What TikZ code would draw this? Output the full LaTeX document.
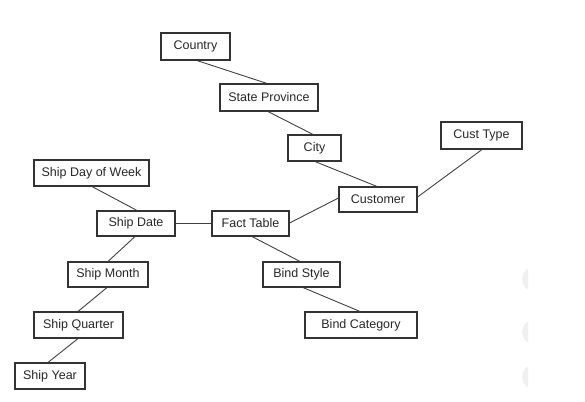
\documentclass[tikz,border=0pt]{standalone}
\usepackage{fontspec}
\setmainfont{Liberation Sans}
\begin{document}
\begin{tikzpicture}[x=1pt,y=-1pt,
  box/.style={draw=black!80, line width=1.1pt, inner sep=0pt, font=\fontsize{12.5}{14}\selectfont, text=black!85},
  link/.style={draw=black!75, line width=0.9pt}]
\useasboundingbox (0,0) rectangle (585,401);
% faint artifacts at right edge
\begin{scope}
\clip (515,0) rectangle (528,401);
\foreach \cy in {279,332,377}
  \fill[black!6] (535,\cy) circle (13);
\end{scope}
\newcommand{\bx}[6]{\node[box, minimum width=#4-#2, minimum height=#5-#3] (#1) at ({(#2+#4)/2},{(#3+#5)/2}) {#6};}
\bx{country}{161}{33}{230}{60}{Country}
\bx{state}{220}{84}{318}{111}{State Province}
\bx{city}{288}{135}{341}{161}{City}
\bx{custtype}{441}{122}{522}{149}{Cust Type}
\bx{customer}{339}{187}{417}{212}{Customer}
\bx{fact}{212}{211}{289}{236}{Fact Table}
\bx{dow}{34}{160}{149}{186}{Ship Day of Week}
\bx{date}{97}{211}{175}{236}{Ship Date}
\bx{month}{68}{262}{148}{287}{Ship Month}
\bx{quarter}{34}{312}{123}{338}{Ship Quarter}
\bx{year}{15}{363}{85}{389}{Ship Year}
\bx{bstyle}{263}{262}{340}{287}{Bind Style}
\bx{bcat}{305}{312}{417}{338}{Bind Category}
% connectors
\draw[link] (country.south -| 197,0) -- (state.north -| 267,0);
\draw[link] (state.south -| 268,0) -- (city.north -| 313,0);
\draw[link] (city.south -| 315,0) -- (customer.north -| 377,0);
\draw[link] (customer.east |- 0,197) -- (custtype.south -| 482,0);
\draw[link] (customer.west |- 0,198) -- (fact.east |- 0,223);
\draw[link] (fact.south -| 252,0) -- (bstyle.north -| 300,0);
\draw[link] (bstyle.south -| 303,0) -- (bcat.north -| 360,0);
\draw[link] (date.east) -- (fact.west);
\draw[link] (dow.south -| 92,0) -- (date.north -| 137,0);
\draw[link] (date.south -| 135,0) -- (month.north -| 108,0);
\draw[link] (month.south -| 107,0) -- (quarter.north -| 78,0);
\draw[link] (quarter.south -| 78,0) -- (year.north -| 48,0);
\end{tikzpicture}
\end{document}
